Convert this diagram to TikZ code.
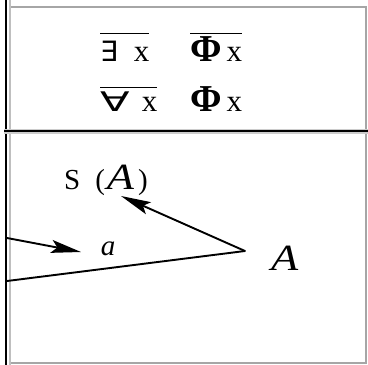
\documentclass[tikz,border=0pt]{standalone}
\usepackage{graphicx}
\usepackage{fontspec}
\setmainfont{Liberation Serif}
\newfontfamily\symfont{DejaVu Sans}
\usetikzlibrary{arrows.meta}
\tikzset{
  frameblack/.style={line width=2.6bp, black},
  framegray/.style={line width=1.2bp, black!35},
  conn/.style={line width=1.9bp, black},
  arr/.style={conn, -{Stealth[length=30bp, width=13bp, inset=6bp]}},
  lbl/.style={inner sep=0pt, font=\fontsize{31bp}{33bp}\selectfont},
  lblsmall/.style={inner sep=0pt, font=\fontsize{29bp}{31bp}\selectfont},
}
\newcommand{\bigphi}{{\fontsize{38bp}{40bp}\selectfont\bfseries Φ}}
\newcommand{\exsym}{{\fontsize{28bp}{30bp}\symfont ∃}}
\newcommand{\fasym}{{\fontsize{27bp}{29bp}\symfont\scalebox{1.6}[1]{∀}}}
\begin{document}
\begin{tikzpicture}[x=1bp,y=-1bp]
\useasboundingbox (0,0) rectangle (368,365);
% frame
\draw[framegray] (9,7) -- (366,7) -- (366,363) -- (9,363);
\draw[line width=2.4bp, black!25] (9.8,0) -- (9.8,365);
\draw[frameblack] (6,0) -- (6,365);
\draw[line width=5bp, black!20] (4,131) -- (368,131);
\draw[frameblack] (4,131) -- (368,131);
% formulas
\node[lbl, anchor=base west] (ex) at (100,61)
  {$\overline{\rule{0pt}{26bp}\mbox{\exsym\hspace{16bp}x}}$};
\node[lbl, anchor=base west] (phi1) at (190,61)
  {$\overline{\rule{0pt}{26bp}\mbox{\bigphi\hspace{5bp}x}}$};
\node[lbl, anchor=base west] (fa) at (100,111)
  {$\overline{\rule{0pt}{22bp}\mbox{\fasym\hspace{12bp}x}}$};
\node[lbl, anchor=base west] (phi2) at (190,111)
  {\bigphi\hspace{5bp}x};
% lower part
\node[lblsmall, anchor=base west] (SA) at (64,189)
  {S\hspace{15bp}(\kern2bp{\fontsize{37bp}{39bp}\selectfont\itshape\scalebox{1.2}[1]{A}}\kern4bp)};
\node[lblsmall, anchor=base] (a) at (108,255) {\itshape a};
\node[lbl, anchor=base west, font=\fontsize{37bp}{39bp}\selectfont\itshape] (Aname) at (271,270) {\scalebox{1.2}[1]{A}};
\coordinate (P) at (245,251);
\coordinate (L1) at (7,238);
\coordinate (L2) at (7,281);
\coordinate (T1) at (81,252);
\coordinate (T2) at (121,196);
\draw[conn, line cap=round] (L2) -- (P);
\draw[arr] (P) -- (T2);
\draw[arr] (L1) -- (T1);
\end{tikzpicture}
\end{document}
